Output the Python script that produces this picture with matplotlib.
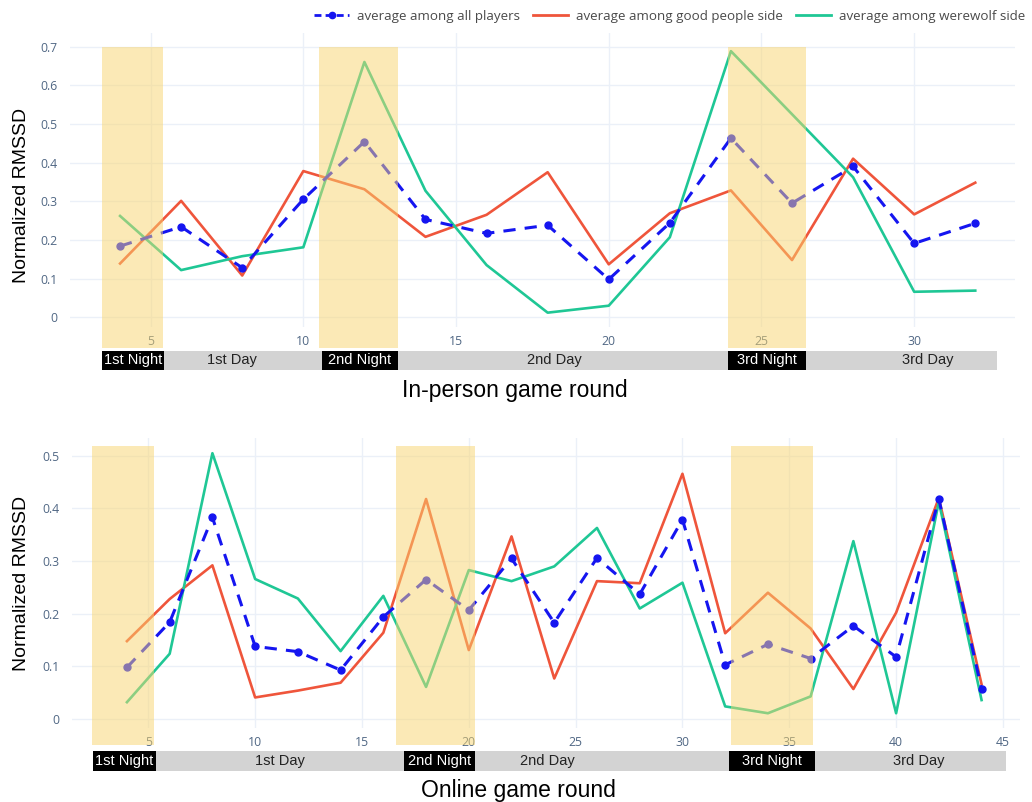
import matplotlib.pyplot as plt
from matplotlib.patches import Rectangle
from matplotlib.lines import Line2D
from matplotlib.transforms import blended_transform_factory

# in-person game: rounds and normalized RMSSD per group
inperson_rounds = [4, 6, 8, 10, 12, 14, 16, 18, 20, 22, 24, 26, 28, 30, 32]
inperson_all = [0.184, 0.234, 0.128, 0.305, 0.454, 0.253, 0.217, 0.238, 0.098,
                0.244, 0.463, 0.295, 0.390, 0.191, 0.243]
inperson_good = [0.139, 0.301, 0.108, 0.378, 0.331, 0.208, 0.265, 0.375, 0.137,
                 0.269, 0.328, 0.148, 0.410, 0.266, 0.348]
inperson_wolf = [0.262, 0.122, 0.158, 0.181, 0.660, 0.327, 0.135, 0.012, 0.030,
                 0.207, 0.688, 0.525, 0.362, 0.066, 0.069]

# online game
online_rounds = [4, 6, 8, 10, 12, 14, 16, 18, 20, 22, 24, 26, 28, 30, 32, 34,
                 36, 38, 40, 42, 44]
online_all = [0.098, 0.184, 0.383, 0.138, 0.128, 0.093, 0.194, 0.265, 0.207,
              0.305, 0.183, 0.306, 0.237, 0.379, 0.103, 0.142, 0.115, 0.177,
              0.118, 0.418, 0.057]
online_good = [0.148, 0.228, 0.292, 0.041, 0.054, 0.069, 0.164, 0.418, 0.131,
               0.347, 0.077, 0.262, 0.258, 0.466, 0.163, 0.240, 0.172, 0.057,
               0.202, 0.420, 0.066]
online_wolf = [0.032, 0.124, 0.505, 0.266, 0.229, 0.129, 0.234, 0.061, 0.283,
               0.262, 0.290, 0.363, 0.210, 0.259, 0.024, 0.011, 0.043, 0.338,
               0.011, 0.413, 0.036]

# game phases (round boundaries), label anchors and night windows
phase_names = ["1st Night", "1st Day", "2nd Night", "2nd Day", "3rd Night", "3rd Day"]
inperson_edges = [3.4, 5.45, 10.6, 13.1, 23.9, 26.45, 32.7]
inperson_label_x = [4.42, 7.66, 11.85, 18.23, 25.17, 30.43]
inperson_nights = [(3.4, 5.4), (10.5, 13.1), (23.9, 26.45)]
online_edges = [2.4, 5.35, 16.95, 20.3, 32.2, 36.2, 45.15]
online_label_x = [3.87, 11.16, 18.62, 23.7, 34.2, 41.06]
online_nights = [(2.35, 5.25), (16.6, 20.3), (32.25, 36.1)]

C_ALL = "#1515f0"
C_GOOD = "#ef553b"
C_WOLF = "#1fc795"
TICK_C = "#506784"
GRID_C = "#ebf0f8"
SHADE = "#f9d56e"

plt.rcParams["font.family"] = ["Open Sans", "DejaVu Sans"]

fig = plt.figure(figsize=(10.32, 8.02), dpi=100)
ax1 = fig.add_axes([0.0678, 0.5923, 0.9157, 0.3666])
ax2 = fig.add_axes([0.0698, 0.0923, 0.9186, 0.3616])


def draw_panel(ax, x, y_all, y_good, y_wolf, nights, edges, label_x, shade_top,
               shade_bot, xlim, ylim, yticks, xticks, xlabel, ylab_pos):
    ax.plot(x, y_good, color=C_GOOD, lw=1.9, zorder=3)
    ax.plot(x, y_wolf, color=C_WOLF, lw=1.9, zorder=3)
    ax.plot(x, y_all, color=C_ALL, lw=2.2, ls=(0, (4, 3)), marker="o", ms=5,
            zorder=4)
    for x0, x1 in nights:
        ax.add_patch(Rectangle((x0, shade_bot), x1 - x0, shade_top - shade_bot,
                               facecolor=SHADE, alpha=0.5, lw=0, zorder=6,
                               clip_on=False))
    ax.set_xlim(*xlim)
    ax.set_ylim(*ylim)
    ax.set_yticks(yticks)
    ax.set_yticklabels(["0" if v == 0 else f"{v:.1f}" for v in yticks])
    ax.set_xticks(xticks)
    ax.tick_params(length=0, labelsize=8.8, colors=TICK_C, pad=9)
    ax.tick_params(axis="x", pad=6)
    ax.grid(True, color=GRID_C, lw=1)
    ax.set_axisbelow(True)
    for s in ax.spines.values():
        s.set_visible(False)
    ax.set_ylabel("Normalized RMSSD", family="Liberation Sans", fontsize=14,
                  color="black")
    ax.yaxis.set_label_coords(*ylab_pos)

    # phase bar under the axis
    tr = blended_transform_factory(ax.transData, ax.transAxes)
    for i, name in enumerate(phase_names):
        x0, x1 = edges[i], edges[i + 1]
        night = "Night" in name
        ax.add_patch(Rectangle((x0, -0.148), x1 - x0, 0.067, transform=tr,
                               facecolor="black" if night else "#d3d3d3", lw=0,
                               clip_on=False, zorder=7))
        ax.text(label_x[i], -0.114, name, transform=tr, ha="center",
                va="center", fontsize=10.5, family="Liberation Sans",
                color="white" if night else "#222222", zorder=8)
    ax.text(0.471, -0.215, xlabel, transform=ax.transAxes, ha="center",
            va="center", fontsize=16.5, family="Liberation Sans", color="black")


draw_panel(ax1, inperson_rounds, inperson_all, inperson_good, inperson_wolf,
           inperson_nights, inperson_edges, inperson_label_x, 0.70, -0.08,
           (2.36, 33.3), (-0.025, 0.735), [0, 0.1, 0.2, 0.3, 0.4, 0.5, 0.6, 0.7],
           [5, 10, 15, 20, 25, 30], "In-person game round", (-0.042, 0.446))
draw_panel(ax2, online_rounds, online_all, online_good, online_wolf,
           online_nights, online_edges, online_label_x, 0.519, -0.05,
           (1.43, 45.8), (-0.017, 0.534), [0, 0.1, 0.2, 0.3, 0.4, 0.5],
           [5, 10, 15, 20, 25, 30, 35, 40, 45], "Online game round",
           (-0.044, 0.5))

handles = [
    Line2D([], [], color=C_ALL, lw=2, ls=(0, (2.5, 1.5)), marker="o", ms=4.5),
    Line2D([], [], color=C_GOOD, lw=2),
    Line2D([], [], color=C_WOLF, lw=2),
]
labels = ["average among all players", "average among good people side",
          "average among werewolf side"]
fig.legend(handles, labels, loc="upper right", bbox_to_anchor=(1.005, 1.003),
           ncol=3, frameon=False, fontsize=9.6, handlelength=2.6,
           columnspacing=1.0, handletextpad=0.6, labelcolor="#4a4a4a")

fig.savefig("out.png", dpi=100)
